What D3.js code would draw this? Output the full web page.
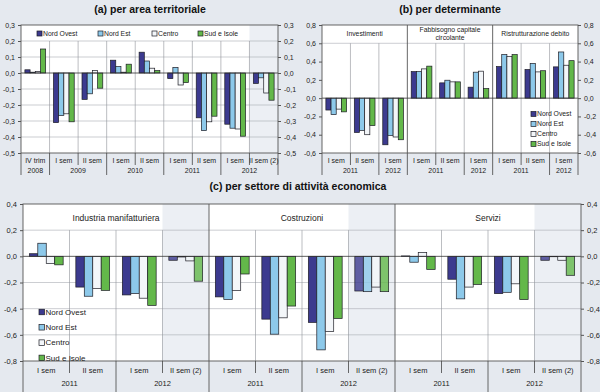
<!DOCTYPE html>
<html>
<head>
  <meta charset="UTF-8">
  <title>Prestiti alle imprese</title>
  <style>
    body {
      margin: 0;
      padding: 0;
      background: #e5e9ef;
    }
    svg {
      display: block;
      font-family: "Liberation Sans", Arial, sans-serif;
    }
  </style>
</head>
<body>
  <svg></svg>

  <script src="https://d3js.org/d3.v7.min.js"></script>
  <script>
    // ---- data ----
    let series = ["Nord Ovest", "Nord Est", "Centro", "Sud e Isole"];

    // (a) per area territoriale
    let aPeriods = ["IV trim", "I sem", "II sem", "I sem", "II sem", "I sem", "II sem", "I sem", "II sem (2)"];
    let aYears = ["2008", "2009", "2010", "2011", "2012"];
    let aYearSpans = [1, 2, 2, 2, 2];
    let aNordOvest = [0.02, -0.31, -0.165, 0.08, 0.13, -0.035, -0.28, -0.32, -0.065];
    let aNordEst = [0.005, -0.265, -0.13, 0.04, 0.075, 0.035, -0.36, -0.345, -0.03];
    let aCentro = [0.01, -0.255, 0.015, 0.005, 0.03, -0.075, -0.305, -0.35, -0.125];
    let aSud = [0.15, -0.305, -0.095, 0.055, 0.015, -0.06, -0.27, -0.395, -0.17];
    let aTicks = [0.3, 0.2, 0.1, 0.0, -0.1, -0.2, -0.3, -0.4, -0.5];

    // (b) per determinante
    let bGroups = [["Investimenti"], ["Fabbisogno capitale", "circolante"], ["Ristrutturazione debito"]];
    let bPeriods = ["I sem", "II sem", "I sem"];
    let bYears = ["2011", "2012"];
    let bYearSpans = [2, 1];
    let bNordOvest = [-0.13, -0.375, -0.51, 0.29, 0.167, 0.12, 0.345, 0.313, 0.342];
    let bNordEst = [-0.18, -0.353, -0.407, 0.29, 0.196, 0.284, 0.476, 0.38, 0.505];
    let bCentro = [-0.12, -0.40, -0.425, 0.32, 0.178, 0.295, 0.455, 0.287, 0.36];
    let bSud = [-0.15, -0.30, -0.455, 0.35, 0.178, 0.105, 0.476, 0.30, 0.41];
    let bTicks = [0.8, 0.6, 0.4, 0.2, 0.0, -0.2, -0.4, -0.6];

    // (c) per settore di attività economica
    let cSectors = [["Industria manifatturiera"], ["Costruzioni"], ["Servizi"]];
    let cPeriods = ["I sem", "II sem", "I sem", "II sem (2)"];
    let cYears = ["2011", "2012"];
    let cYearSpans = [2, 2];
    let cNordOvest = [0.02, -0.235, -0.295, -0.03, -0.31, -0.48, -0.505, -0.265, 0.003, -0.175, -0.285, -0.03];
    let cNordEst = [0.10, -0.305, -0.285, -0.005, -0.33, -0.595, -0.715, -0.27, -0.045, -0.325, -0.275, -0.003];
    let cCentro = [-0.055, -0.245, -0.32, -0.035, -0.26, -0.47, -0.575, -0.235, 0.03, -0.235, -0.21, -0.03];
    let cSud = [-0.065, -0.26, -0.375, -0.19, -0.135, -0.38, -0.475, -0.27, -0.10, -0.215, -0.33, -0.145];
    let cTicks = [0.4, 0.2, 0.0, -0.2, -0.4, -0.6, -0.8];

    // ---- styles ----
    let colors = ["#3c3a8f", "#8dc9ea", "#f3f6f9", "#63b84a"];
    let shadeColor = "#eceff4";
    let fmt = d => d.toFixed(1).replace(".", ",");

    let width = 600, height = 392;
    let svg = d3.select("svg").attr("width", width).attr("height", height);

    svg.append("rect").attr("width", width).attr("height", height).attr("fill", "#e5e9ef");

    function drawPanel(p) {
      let g = svg.append("g");
      let nGroups = p.groups ? p.groups.length : 1;
      let periods = [];
      for (let k = 0; k < nGroups; k++) periods = periods.concat(p.periods);
      let n = periods.length;
      let groupSize = p.periods.length;

      let x = d3.scaleBand().domain(d3.range(n)).range([p.left, p.right]);
      let xs = d3.scaleBand().domain(series).range([0, x.bandwidth()]).paddingOuter(0.75);
      let y = d3.scaleLinear().domain(p.domain).range([p.bottom, p.top]);

      // plot background
      g.append("rect")
        .attr("x", p.left).attr("y", p.top)
        .attr("width", p.right - p.left).attr("height", p.bottom - p.top)
        .attr("fill", "#fff");

      // shaded periods (provisional data)
      d3.range(n).filter(i => periods[i].indexOf("(2)") >= 0).forEach(i => {
        g.append("rect")
          .attr("x", x(i)).attr("y", p.top)
          .attr("width", x.bandwidth()).attr("height", p.bottom - p.top)
          .attr("fill", shadeColor);
      });

      // horizontal grid
      g.selectAll(".grid")
        .data(p.grid)
        .enter()
        .append("line")
        .attr("x1", p.left).attr("x2", p.right)
        .attr("y1", d => y(d)).attr("y2", d => y(d))
        .attr("stroke", "#a9adb3")
        .attr("stroke-width", 0.6);

      // vertical separators inside the plot
      for (let i = 1; i < n; i++) {
        let xx = x(i);
        if (i % groupSize == 0) {
          g.append("line")
            .attr("x1", xx).attr("x2", xx)
            .attr("y1", p.top).attr("y2", p.bottom + p.longTick)
            .attr("stroke", "#555").attr("stroke-width", 0.9);
        } else {
          g.append("line")
            .attr("x1", xx).attr("x2", xx)
            .attr("y1", y(p.header)).attr("y2", p.bottom)
            .attr("stroke", "#8e9298").attr("stroke-width", 0.6);
        }
      }

      // bars
      let rows = [];
      p.values.forEach((vals, s) => {
        vals.forEach((v, i) => rows.push({ s: s, i: i, v: v }));
      });

      g.append("g")
        .selectAll("rect")
        .data(rows)
        .enter()
        .append("rect")
        .attr("x", d => x(d.i) + xs(series[d.s]))
        .attr("width", xs.bandwidth())
        .attr("y", d => y(Math.max(0, d.v)))
        .attr("height", d => Math.abs(y(d.v) - y(0)))
        .attr("fill", d => colors[d.s])
        .attr("fill-opacity", d => (p.fadeShaded && periods[d.i].indexOf("(2)") >= 0) ? 0.8 : 1)
        .attr("stroke", "#1c1c24")
        .attr("stroke-width", 0.7);

      // zero line
      g.append("line")
        .attr("x1", p.left).attr("x2", p.right)
        .attr("y1", y(0)).attr("y2", y(0))
        .attr("stroke", "#333").attr("stroke-width", 0.8);

      // frame
      g.append("rect")
        .attr("x", p.left).attr("y", p.top)
        .attr("width", p.right - p.left).attr("height", p.bottom - p.top)
        .attr("fill", "none")
        .attr("stroke", "#555").attr("stroke-width", 0.9);

      // side edges continue into the label area
      [p.left, p.right].forEach(xx => {
        g.append("line")
          .attr("x1", xx).attr("x2", xx)
          .attr("y1", p.bottom).attr("y2", p.bottom + p.longTick)
          .attr("stroke", "#555").attr("stroke-width", 0.9);
      });

      // y axes
      let yl = g.append("g")
        .attr("transform", "translate(" + p.left + ",0)")
        .call(d3.axisLeft(y).tickValues(p.ticks).tickSize(3).tickFormat(fmt));
      let yr = g.append("g")
        .attr("transform", "translate(" + p.right + ",0)")
        .call(d3.axisRight(y).tickValues(p.ticks).tickSize(3).tickFormat(fmt));
      [yl, yr].forEach(ax => {
        ax.select(".domain").remove();
        ax.selectAll("line").attr("stroke", "#555");
        ax.selectAll("text")
          .attr("fill", "#222")
          .style("font-size", p.tickFont + "px")
          .style("font-family", "'Liberation Sans', Arial, sans-serif");
      });

      // period labels
      g.selectAll(".period")
        .data(periods)
        .enter()
        .append("text")
        .attr("x", (d, i) => x(i) + x.bandwidth() / 2)
        .attr("y", p.bottom + p.periodY)
        .attr("text-anchor", "middle")
        .attr("fill", "#222")
        .style("font-size", p.catFont + "px")
        .text(d => d);

      // period / year separators in label area, year labels
      for (let k = 0; k < nGroups; k++) {
        let start = k * groupSize;
        let boundaries = [];
        let cum = start;
        p.yearSpans.forEach((span, j) => {
          let a = cum, b = cum + span;
          g.append("text")
            .attr("x", (x(a) + x(b - 1) + x.bandwidth()) / 2)
            .attr("y", p.bottom + p.yearY)
            .attr("text-anchor", "middle")
            .attr("fill", "#222")
            .style("font-size", p.catFont + "px")
            .text(p.years[j]);
          if (j > 0) boundaries.push(a);
          cum = b;
        });
        for (let i = start + 1; i < start + groupSize; i++) {
          let long = boundaries.indexOf(i) >= 0;
          g.append("line")
            .attr("x1", x(i)).attr("x2", x(i))
            .attr("y1", p.bottom).attr("y2", p.bottom + (long ? p.longTick : p.shortTick))
            .attr("stroke", "#444").attr("stroke-width", 0.8);
        }
      }

      // group headers
      if (p.groups) {
        p.groups.forEach((lines, k) => {
          let cx = (x(k * groupSize) + x(k * groupSize + groupSize - 1) + x.bandwidth()) / 2;
          let t = g.append("text")
            .attr("text-anchor", "middle")
            .attr("fill", "#222")
            .style("font-size", p.headFont + "px");
          lines.forEach((ln, j) => {
            t.append("tspan")
              .attr("x", cx)
              .attr("y", p.headY - (lines.length - 1) * p.headFont * 0.6 + j * p.headFont * 1.2)
              .text(ln);
          });
        });
      }

      // title
      svg.append("text")
        .attr("x", p.titleX).attr("y", p.titleY)
        .attr("text-anchor", "middle")
        .attr("fill", "#111")
        .style("font-size", "10.5px")
        .style("font-weight", "bold")
        .text(p.title);

      // legend
      let lg = g.append("g");
      series.forEach((s, k) => {
        let lx = p.legend.horizontal ? p.legend.x[k] : p.legend.x;
        let ly = p.legend.horizontal ? p.legend.y : p.legend.y + k * p.legend.step;
        lg.append("rect")
          .attr("x", lx).attr("y", ly - p.legend.size / 2)
          .attr("width", p.legend.size).attr("height", p.legend.size)
          .attr("fill", colors[k])
          .attr("stroke", "#1c1c24").attr("stroke-width", 0.7);
        lg.append("text")
          .attr("x", lx + p.legend.size + 1)
          .attr("y", ly + p.legend.font * 0.36)
          .attr("fill", "#222")
          .style("font-size", p.legend.font + "px")
          .text(s);
      });
    }

    drawPanel({
      title: "(a) per area territoriale", titleX: 150, titleY: 13,
      left: 21, right: 278, top: 25, bottom: 153,
      domain: [-0.5, 0.3], ticks: aTicks, grid: [0.2, 0.1, -0.1, -0.2, -0.3, -0.4], header: 0.2,
      periods: aPeriods, years: aYears, yearSpans: aYearSpans,
      values: [aNordOvest, aNordEst, aCentro, aSud],
      tickFont: 7, catFont: 7, periodY: 10, yearY: 20, shortTick: 12, longTick: 22,
      legend: { horizontal: true, x: [37, 98, 152, 198], y: 33.5, size: 5, font: 6.8 }
    });

    drawPanel({
      title: "(b) per determinante", titleX: 450, titleY: 13,
      left: 322, right: 578, top: 25, bottom: 153,
      domain: [-0.6, 0.8], ticks: bTicks, grid: [0.6], header: 0.6,
      groups: bGroups, headY: 36, headFont: 6.8,
      periods: bPeriods, years: bYears, yearSpans: bYearSpans,
      values: [bNordOvest, bNordEst, bCentro, bSud],
      tickFont: 7, catFont: 7, periodY: 10, yearY: 20, shortTick: 12, longTick: 22,
      legend: { horizontal: false, x: 531, y: 114, step: 10, size: 5, font: 6.8 }
    });

    drawPanel({
      title: "(c) per settore di attività economica", titleX: 298, titleY: 190,
      left: 23, right: 581, top: 204, bottom: 361,
      domain: [-0.8, 0.4], ticks: cTicks, grid: [0.2, -0.2, -0.4, -0.6], header: 0.2,
      groups: cSectors, headY: 221, headFont: 8.5,
      periods: cPeriods, years: cYears, yearSpans: cYearSpans,
      values: [cNordOvest, cNordEst, cCentro, cSud],
      fadeShaded: true,
      tickFont: 7.5, catFont: 7.5, periodY: 12, yearY: 24.5, shortTick: 12, longTick: 31,
      legend: { horizontal: false, x: 39, y: 312, step: 15.3, size: 5.5, font: 8 }
    });
  </script>
</body>
</html>
